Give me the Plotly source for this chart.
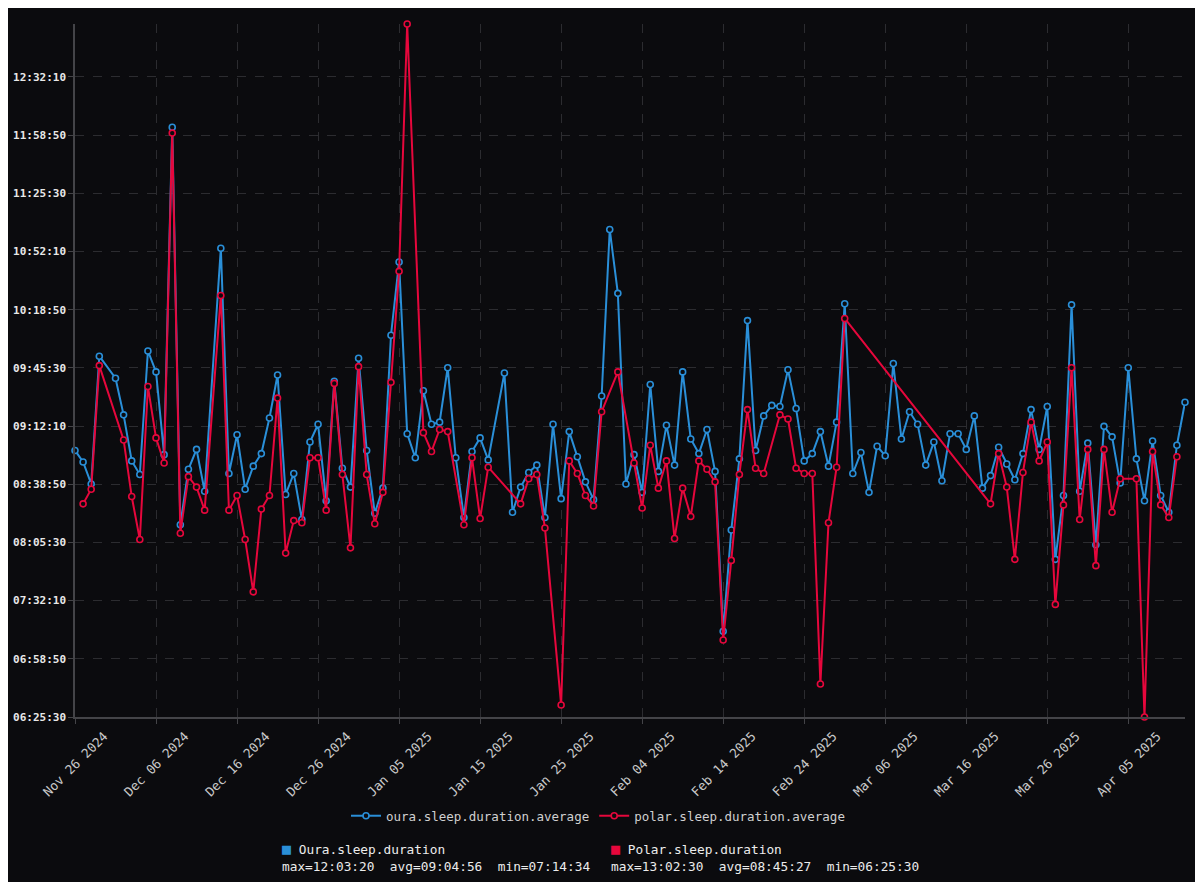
import pandas as pd
import plotly.graph_objects as go

# 每日睡眠时长（小时），None 表示当天没有数据
start = "2024-11-26"
oura_hours = [
    8.97, 8.86, 8.65, 9.87, None, 9.66, 9.31, 8.87, 8.74, 9.92,
    9.72, 8.93, 12.0556, 8.26, 8.79, 8.98, 8.58, None, 10.90, 8.75,
    9.12, 8.60, 8.82, 8.94, 9.28, 9.69, 8.55, 8.75, 8.31, 9.05,
    9.22, 8.49, 9.63, 8.80, 8.62, 9.85, 8.97, 8.37, 8.61, 10.07,
    10.77, 9.13, 8.90, 9.54, 9.22, 9.24, 9.76, 8.90, 8.33, 8.96,
    9.09, 8.88, None, 9.71, 8.38, 8.62, 8.76, 8.83, 8.33, 9.22,
    8.51, 9.15, 8.91, 8.67, 8.50, 9.49, 11.08, 10.47, 8.65, 8.93,
    8.57, 9.60, 8.77, 9.21, 8.83, 9.72, 9.08, 8.94, 9.17, 8.77,
    7.2428, 8.21, 8.89, 10.21, 8.97, 9.30, 9.40, 9.39, 9.74, 9.37,
    8.87, 8.94, 9.15, 8.82, 9.24, 10.37, 8.75, 8.95, 8.57, 9.01,
    8.92, 9.80, 9.08, 9.34, 9.22, 8.83, 9.05, 8.68, 9.13, 9.13,
    8.98, 9.30, 8.61, 8.73, 9.00, 8.84, 8.69, 8.94, 9.36, 8.98,
    9.39, 7.93, 8.54, 10.36, 8.58, 9.04, 8.07, 9.20, 9.10, 8.66,
    9.76, 8.89, 8.49, 9.06, 8.54, 8.38, 9.02, 9.43,
]
polar_hours = [
    None, 8.46, 8.60, 9.78, None, None, 9.07, 8.53, 8.12, 9.58,
    9.09, 8.85, 12.00, 8.18, 8.72, 8.62, 8.40, None, 10.45, 8.40,
    8.54, 8.12, 7.62, 8.41, 8.54, 9.47, 7.99, 8.30, 8.28, 8.90,
    8.90, 8.40, 9.61, 8.74, 8.04, 9.77, 8.74, 8.27, 8.57, 9.62,
    10.68, 13.0417, None, 9.14, 8.96, 9.17, 9.15, None, 8.26, 8.90,
    8.32, 8.81, None, None, None, 8.46, 8.70, 8.74, 8.23, None,
    6.54, 8.87, 8.75, 8.54, 8.44, 9.34, None, 9.72, None, 8.85,
    8.42, 9.02, 8.61, 8.87, 8.13, 8.61, 8.34, 8.87, 8.79, 8.67,
    7.16, 7.92, 8.74, 9.36, 8.80, 8.75, None, 9.31, 9.27, 8.80,
    8.75, 8.75, 6.74, 8.28, 8.81, 10.23, None, None, None, None,
    None, None, None, None, None, None, None, None, None, None,
    None, None, None, 8.46, 8.94, 8.62, 7.93, 8.76, 9.24, 8.87,
    9.05, 7.50, 8.45, 9.76, 8.31, 8.98, 7.87, 8.98, 8.38, 8.70,
    None, 8.70, 6.425, 8.96, 8.45, 8.33, 8.91, None,
]

oura_stats = "max=12:03:20  avg=09:04:56  min=07:14:34"
polar_stats = "max=13:02:30  avg=08:45:27  min=06:25:30"

bg = "#0b0b0e"
blue = "#2a8fd8"
red = "#e6073c"
grid = "#2c2c30"
font = "DejaVu Sans Mono"

days = pd.date_range(start=start, periods=len(oura_hours), freq="D")
base = pd.Timestamp("1970-01-01")


def to_time(h):
    return base + pd.to_timedelta(h, unit="h")


df = pd.DataFrame({"day": days, "oura": oura_hours, "polar": polar_hours})

fig = go.Figure()
for col, name, color in [
    ("oura", "oura.sleep.duration.average", blue),
    ("polar", "polar.sleep.duration.average", red),
]:
    d = df.dropna(subset=[col])
    fig.add_trace(go.Scatter(
        x=d["day"],
        y=to_time(d[col].astype(float)),
        mode="lines+markers",
        name=name,
        line=dict(color=color, width=2),
        marker=dict(size=6, color=bg, line=dict(color=color, width=1.6)),
        cliponaxis=False,
    ))

# 页面 body 自带 8px 边距，所以图宽高各减 8
fig.update_layout(
    width=1195, height=874,
    paper_bgcolor=bg, plot_bgcolor=bg,
    margin=dict(l=67, r=18, t=16, b=165),
    font=dict(family=font, color="#d8d8d8", size=12),
    showlegend=True,
    legend=dict(
        orientation="h", x=(598 - 75) / 1110, xanchor="center",
        y=-0.143, yanchor="middle",
        font=dict(size=12.5, color="#d0d0d0"),
        itemwidth=30,
    ),
    xaxis=dict(
        type="date",
        range=[days[0], days[-1]],
        tick0=start, dtick=10 * 86400000,
        tickformat="%b %d %Y", tickangle=-45,
        ticklabelshift=29,
        tickfont=dict(size=12.8, color="#c8c8c8"),
        showgrid=True, gridcolor=grid, griddash="dash", gridwidth=1,
        showline=True, linecolor="#444448", linewidth=1.5,
        ticks="outside", ticklen=5, tickcolor="#444448",
        zeroline=False, automargin=False,
    ),
    yaxis=dict(
        type="date",
        range=[to_time(6.425), to_time(13.0417)],
        tick0=to_time(6.425), dtick=2000 * 1000,
        tickformat="%H:%M:%S",
        tickfont=dict(size=11, color="#e8e8e8", family="DejaVu Sans Mono, monospace", weight="bold"),
        showgrid=True, gridcolor=grid, griddash="dash", gridwidth=1,
        showline=True, linecolor="#444448", linewidth=1.5,
        ticks="outside", ticklen=5, tickcolor="#444448",
        zeroline=False, automargin=False,
    ),
)

# 底部统计信息
y_title = -(849 - 717) / 693
y_stats = -(866 - 717) / 693
for x_px, label, stats, color in [
    (280, "Oura.sleep.duration", oura_stats, blue),
    (609, "Polar.sleep.duration", polar_stats, red),
]:
    xp = (x_px - 75) / 1110
    fig.add_annotation(
        xref="paper", yref="paper", x=xp, y=y_title,
        xanchor="left", yanchor="middle", showarrow=False,
        text=f"<span style='color:{color};font-size:15px'>■</span> {label}",
        font=dict(size=12.8, color="#ececec"),
    )
    fig.add_annotation(
        xref="paper", yref="paper", x=xp, y=y_stats,
        xanchor="left", yanchor="middle", showarrow=False,
        text=stats.replace(" ", "&nbsp;"),
        font=dict(size=12.8, color="#ececec"),
    )

fig.write_html("out.html")
